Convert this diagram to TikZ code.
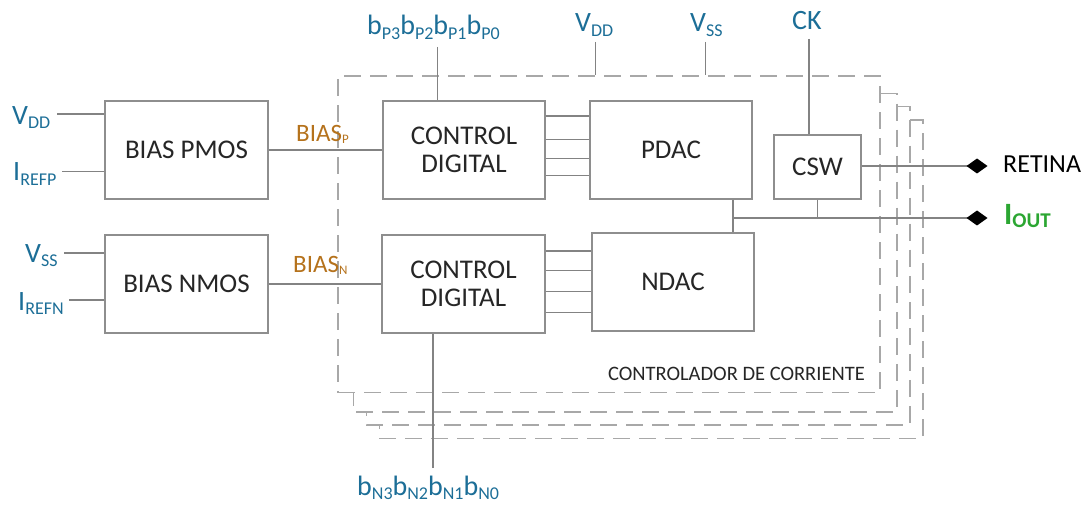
\documentclass[tikz,border=0pt]{standalone}
\usepackage{fontspec}
\setmainfont{Carlito}
\usepackage{xcolor}
\usepackage{tikz}
\usetikzlibrary{positioning,calc}
\definecolor{sigblue}{HTML}{1C6E97}
\definecolor{biasorange}{HTML}{B5721C}
\definecolor{outgreen}{HTML}{2BA632}
\definecolor{boxgray}{HTML}{8E8E8E}
\definecolor{wiregray}{HTML}{838383}
\definecolor{dashgray}{HTML}{A8A8A8}
\definecolor{txtdark}{HTML}{262626}
\newcommand{\blockfont}{\fontsize{27}{28}\selectfont}
\newcommand{\sigfont}{\fontsize{28}{30}\selectfont}
\newcommand{\sbs}[1]{\raisebox{-4.5pt}{\fontsize{18}{18}\selectfont #1}}
\tikzset{
  blockbox/.style={
    rectangle, draw=boxgray, line width=1.4pt, fill=white,
    text=txtdark, font=\blockfont, align=center, inner sep=0pt,
    minimum width=163pt, minimum height=98pt
  },
  framebox/.style={
    rectangle, draw=dashgray, line width=1.5pt,
    dash pattern=on 17pt off 9pt, inner sep=0pt
  },
  framedash/.style={
    draw=dashgray, line width=1.5pt, dash pattern=on 17pt off 9pt
  },
  wire/.style={draw=wiregray, line width=1.2pt},
  siglabel/.style={text=sigblue, font=\sigfont, inner sep=0pt},
  biaslabel/.style={text=biasorange, font=\fontsize{25}{26}\selectfont, inner sep=0pt},
}
\begin{document}
\begin{tikzpicture}[x=1pt,y=-1pt]
  \useasboundingbox (0,0) rectangle (1087,505);

  % Stacked current controllers
  \node[framebox, minimum width=542pt, minimum height=316.7pt] (ctrlframe) at (609,234.35) {};
  \foreach \dx/\dy/\px/\py in {16/18.5/0/0, 29/31.5/16/18.5, 42/45/29/31.5}
    \draw[framedash] ($(ctrlframe.north east)+(\px,\dy)$) -- ($(ctrlframe.north east)+(\dx,\dy)$)
      -- ($(ctrlframe.south east)+(\dx,\dy)$) -- ($(ctrlframe.south west)+(\dx,\dy)$)
      -- ($(ctrlframe.south west)+(\dx,\py)$);
  \node[anchor=base east, inner sep=0pt, text=txtdark, font=\fontsize{20.5}{22}\selectfont]
    (ctrllbl) at (865,380.7) {CONTROLADOR DE CORRIENTE};

  % Bias blocks
  \node[blockbox] (bpmos) at (186.5,150) {BIAS PMOS};
  \node[blockbox] (bnmos) at (186.5,284) {BIAS NMOS};

  % Digital control and DACs
  \node[blockbox, minimum width=162pt] (ctrlp) at (464,150) {CONTROL\\DIGITAL};
  \node[blockbox] (ctrln) at (463.5,284) {CONTROL\\DIGITAL};
  \node[blockbox, minimum width=162pt] (pdac) at (671,150) {PDAC};
  \node[blockbox, minimum width=162pt] (ndac) at (673,282) {NDAC};
  \node[blockbox, minimum width=87pt, minimum height=64pt] (csw) at (817.5,167) {CSW};

  % Bias inputs
  \node[siglabel, anchor=base west] (vddl) at (12,124.5) {V\sbs{DD}};
  \node[siglabel, anchor=base west] (irefpl) at (13,181) {I\sbs{REFP}};
  \node[siglabel, anchor=base west] (vssl) at (25,262) {V\sbs{SS}};
  \node[siglabel, anchor=base west] (irefnl) at (18,310) {I\sbs{REFN}};
  \coordinate (vddin) at (57,114);
  \coordinate (irefpin) at (62,171.7);
  \coordinate (vssin) at (64,253);
  \coordinate (irefnin) at (69,300);
  \draw[wire] (vddin) -- (vddin -| bpmos.west);
  \draw[wire] (irefpin) -- (irefpin -| bpmos.west);
  \draw[wire] (vssin) -- (vssin -| bnmos.west);
  \draw[wire] (irefnin) -- (irefnin -| bnmos.west);

  % Bias lines
  \draw[wire] (bpmos) -- (ctrlp);
  \draw[wire] (bnmos) -- (ctrln);
  \node[biaslabel, anchor=base west] (biasp) at (296,141.7) {BIAS\raisebox{-1.5pt}{\fontsize{13}{13}\selectfont P}};
  \node[biaslabel, anchor=base west] (biasn) at (293,272.7) {BIAS\raisebox{-1.5pt}{\fontsize{13}{13}\selectfont N}};

  % 4-bit buses
  \foreach \y in {116,139.3,158.3,175.7}
    \draw[wire] (ctrlp.east |- 0,\y) -- (pdac.west |- 0,\y);
  \foreach \y in {251,270.7,291.7,312.3}
    \draw[wire] (ctrln.east |- 0,\y) -- (ndac.west |- 0,\y);

  % Top inputs
  \node[siglabel, anchor=base west] (bpl) at (367,35) {b\sbs{P3}b\sbs{P2}b\sbs{P1}b\sbs{P0}};
  \node[siglabel, anchor=base west] (vddt) at (575,31.7) {V\sbs{DD}};
  \node[siglabel, anchor=base west] (vsst) at (690,31.7) {V\sbs{SS}};
  \node[siglabel, anchor=base west] (ckl) at (792,29.3) {CK};
  \coordinate (bpin) at (437.5,47);
  \coordinate (vddtin) at (595.7,42);
  \coordinate (vsstin) at (705.5,42);
  \coordinate (ckin) at (809,39);
  \draw[wire] (bpin) -- (bpin |- ctrlp.north);
  \draw[wire] (vddtin) -- (vddtin |- ctrlframe.north);
  \draw[wire] (vsstin) -- (vsstin |- ctrlframe.north);
  \draw[wire] (ckin) -- (ckin |- csw.north);

  % Bottom input
  \node[siglabel, anchor=base west] (bnl) at (357,495) {b\sbs{N3}b\sbs{N2}b\sbs{N1}b\sbs{N0}};
  \coordinate (bnin) at (433,468);
  \draw[wire] (bnin) -- (bnin |- ctrln.south);

  % Outputs
  \coordinate (dacjn) at (733,218);
  \coordinate (retpin) at (977,166);
  \coordinate (outpin) at (977,218);
  \draw[wire] (pdac.south -| dacjn) -- (ndac.north -| dacjn);
  \draw[wire] (dacjn) -- (outpin);
  \draw[wire] (csw.south) -- (csw.south |- dacjn);
  \draw[wire] (csw.east |- retpin) -- (retpin);
  \foreach \p in {retpin,outpin}
    \fill[black] (\p) ++(-10.5,0) -- ++(10.5,-7.5) -- ++(10.5,7.5) -- ++(-10.5,7.5) -- cycle;
  \node[anchor=base west, inner sep=0pt, text=black, font=\fontsize{26}{28}\selectfont]
    (rettxt) at (1003,172.3) {RETINA};
  \node[anchor=base west, inner sep=0pt, text=outgreen, font=\fontsize{31}{32}\selectfont\bfseries]
    (outtxt) at (1004,225) {I\raisebox{-3pt}{\fontsize{21}{21}\selectfont OUT}};
\end{tikzpicture}
\end{document}
